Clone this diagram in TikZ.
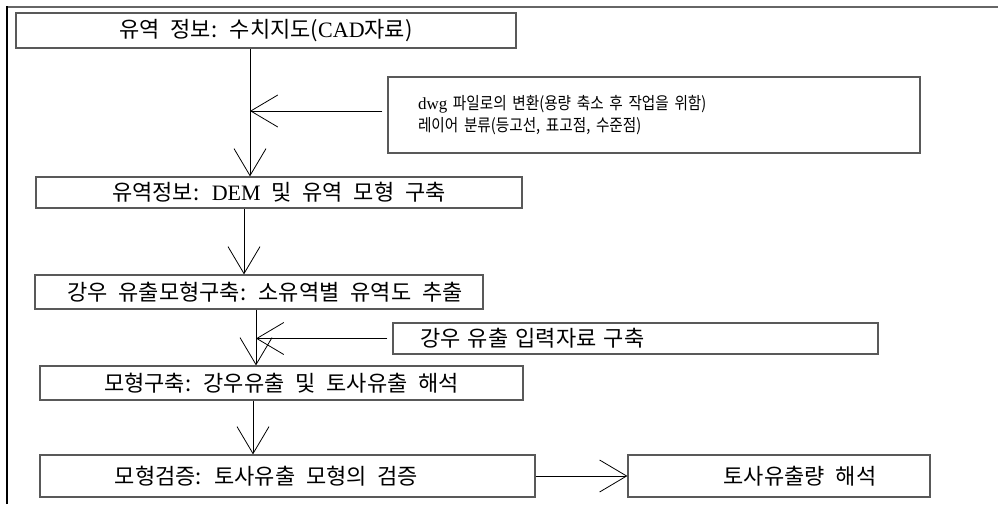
\documentclass[tikz,border=0pt]{standalone}
\usepackage{fontspec}
\setmainfont{Noto Sans CJK KR}[WordSpace=2.2]
\newfontfamily\memofont{Noto Sans CJK KR}[FakeStretch=0.86]
\newfontfamily\latin{Liberation Serif}
\usetikzlibrary{arrows.meta,positioning}

\begin{document}
\begin{tikzpicture}[x=1pt, y=-1pt,
    stage/.style={draw=black!65, line width=1.2pt, rectangle, inner sep=0pt, font=\fontsize{22}{26}\selectfont},
    memo/.style={draw=black!65, line width=1.2pt, rectangle, align=left, font=\memofont\fontsize{17}{22}\selectfont},
    flow/.style={-{Straight Barb[length=27pt, width=32pt]}, line width=0.8pt}]
    \useasboundingbox (0,0) rectangle (998,504);

    % Frame
    \draw[black!60, line width=1.6pt] (7,7) -- (998,7);
    \draw[line width=1.2pt] (7,504) -- (7,6.2);

    % Stages
    \node[stage, minimum width=500pt, minimum height=35pt] (gis) at (266,30.5) {유역 정보: 수치지도({\latin CAD}자료)};
    \node[stage, minimum width=486pt, minimum height=31pt] (dem) at (279,192.5) {유역정보: {\latin DEM} 및 유역 모형 구축};
    \node[stage, minimum width=448pt, minimum height=34pt] (sub) at (259,292) {\hspace*{12pt}강우 유출모형구축: 소유역별 유역도 추출};
    \node[stage, minimum width=483pt, minimum height=34pt] (model) at (281.5,383) {모형구축: 강우유출 및 토사유출 해석};
    \node[stage, minimum width=495pt, minimum height=42pt] (check) at (287.5,476) {모형검증: 토사유출 모형의 검증\hspace*{42pt}};
    \node[stage, minimum width=302pt, minimum height=42pt] (sed) at (779,476) {\hspace*{42pt}토사유출량 해석};

    % Side notes
    \node[memo, text width=472pt, inner xsep=30pt, minimum height=76pt] (dwg) at (654,115) {{\latin dwg} 파일로의 변환(용량 축소 후 작업을 위함)\\레이어 분류(등고선, 표고점, 수준점)};
    \node[stage, align=left, text width=431pt, inner xsep=27pt, minimum height=31pt] (input) at (635.5,338.5) {강우 유출 입력자료 구축};

    % Junctions on the main line
    \coordinate (j1) at (250,111);
    \coordinate (j2) at (256,338.5);

    % Arrows
    \draw[flow] (gis.south -| j1) -- (dem.north -| j1);
    \draw[flow, shorten <=5pt] (dwg.west |- j1) -- (j1);
    \draw[flow] (dem.south -| 244,0) -- (sub.north -| 244,0);
    \draw[flow] (sub.south -| j2) -- (model.north -| j2);
    \draw[flow, shorten <=5pt] (input.west) -- (j2);
    \draw[flow] (model.south -| 253,0) -- (check.north -| 253,0);
    \draw[flow] (check) -- (sed);
\end{tikzpicture}
\end{document}
